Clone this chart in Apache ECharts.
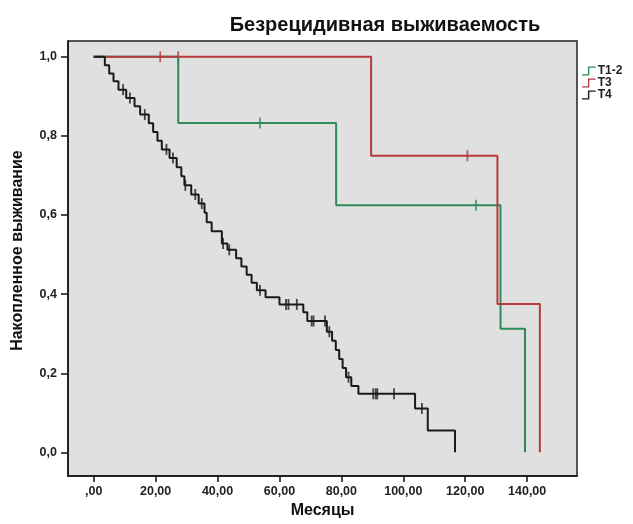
<!DOCTYPE html>
<html><head><meta charset="utf-8">
<script src="https://cdn.jsdelivr.net/npm/echarts@6/dist/echarts.min.js"></script>
<style>html,body{margin:0;padding:0;background:#fff}#c{width:633px;height:524px}</style>
</head><body><div id="c"></div>
<script>
const titleText = 'Безрецидивная выживаемость';
const xName = 'Месяцы';
const yName = 'Накопленное выживание';
const xTicks = [0, 20, 40, 60, 80, 100, 120, 140];
const yTicks = [0, 0.2, 0.4, 0.6, 0.8, 1.0];
const seriesNames = ['T1-2', 'T3', 'T4'];

// T1-2
const t12Times = [0, 27.3, 78.3, 131.4, 139.3];
const t12Surv = [1.0, 0.833, 0.625, 0.3125, 0];
const t12CensorTimes = [53.7, 123.5];
const t12CensorSurv = [0.833, 0.625];

// T3
const t3Times = [0, 89.6, 130.4, 144.1];
const t3Surv = [1.0, 0.75, 0.375, 0];
const t3CensorTimes = [21.5, 27.3, 120.7];
const t3CensorSurv = [1.0, 1.0, 0.75];

// T4
const t4Times = [0, 3.6, 5.0, 6.4, 8.0, 10.5, 13.2, 15.0, 17.8, 19.2, 20.6, 22.0, 24.5, 26.8, 28.3, 29.3, 31.5, 33.9, 35.8, 36.5, 38.1, 41.4, 43.2, 46.0, 47.7, 49.4, 51.0, 52.7, 55.5, 60.0, 67.7, 69.0, 75.3, 77.0, 78.2, 79.3, 80.4, 81.5, 83.2, 85.5, 103.8, 107.9, 116.7];
const t4Surv = [1.0, 0.979, 0.958, 0.938, 0.917, 0.896, 0.875, 0.854, 0.832, 0.810, 0.788, 0.766, 0.744, 0.721, 0.698, 0.675, 0.652, 0.629, 0.606, 0.582, 0.559, 0.528, 0.512, 0.491, 0.470, 0.449, 0.429, 0.410, 0.392, 0.374, 0.354, 0.332, 0.305, 0.282, 0.259, 0.236, 0.213, 0.190, 0.168, 0.148, 0.111, 0.0555, 0];
const t4CensorTimes = [9.5, 11.7, 16.5, 23.5, 25.6, 29.6, 32.8, 34.9, 41.8, 43.8, 53.7, 62.1, 62.9, 65.6, 70.4, 71.0, 74.7, 76.1, 82.3, 90.3, 91.1, 91.6, 97.0, 106.0];
const t4CensorSurv = [0.917, 0.896, 0.854, 0.766, 0.744, 0.675, 0.652, 0.629, 0.528, 0.512, 0.410, 0.374, 0.374, 0.374, 0.332, 0.332, 0.332, 0.305, 0.190, 0.148, 0.148, 0.148, 0.148, 0.111];

const colors = ['#2e8b57', '#b53a3a', '#1a1a1a'];
const fontFam = 'Liberation Sans, Arial, sans-serif';
const zip = (a, b) => a.map((v, i) => [v, b[i]]);

function lineSeries(name, t, s, c) {
  return { name: name, type: 'line', step: 'end', data: zip(t, s), showSymbol: false, symbol: 'none',
    lineStyle: { color: c, width: 2 }, itemStyle: { color: c }, animation: false, silent: true };
}
function censorSeries(name, t, s, c) {
  return { name: name + ' censored', type: 'scatter', data: zip(t, s), symbol: 'rect', symbolSize: [1.8, 11],
    itemStyle: { color: c }, animation: false, silent: true };
}

const chart = echarts.init(document.getElementById('c'));
chart.setOption({
  animation: false,
  backgroundColor: '#ffffff',
  title: { text: titleText, left: 380, top: 10, textAlign: 'center',
    textStyle: { fontFamily: fontFam, fontSize: 20, fontWeight: 'bold', color: '#111' } },
  legend: {
    data: seriesNames, orient: 'vertical', left: 577, top: 60, itemGap: 0, itemWidth: 16, itemHeight: 9,
    icon: 'path://M0,9 L7,9 L7,0 L16,0 L16,1.6 L8.6,1.6 L8.6,10.6 L0,10.6 Z',
    textStyle: { fontFamily: fontFam, fontSize: 12, fontWeight: 'bold', color: '#222', padding: [0, 0, 0, -4] }
  },
  grid: { left: 68, right: 56, top: 41, bottom: 45, show: true, backgroundColor: '#e0e0e0', borderColor: '#222', borderWidth: 1.5 },
  xAxis: {
    type: 'value', min: -8.3, max: 156.1,
    name: xName, nameLocation: 'middle', nameGap: 24,
    nameTextStyle: { fontFamily: fontFam, fontSize: 16, fontWeight: 'bold', color: '#111' },
    axisLine: { show: true, onZero: false, lineStyle: { color: '#111', width: 1.5 } },
    axisTick: { show: true, customValues: xTicks, length: 6, lineStyle: { color: '#111', width: 1.5 } },
    axisLabel: { customValues: xTicks, margin: 9, fontFamily: fontFam, fontSize: 12.5, fontWeight: 'bold', color: '#222',
      formatter: v => v === 0 ? ',00' : v.toFixed(2).replace('.', ',') },
    splitLine: { show: false }
  },
  yAxis: {
    type: 'value', min: -0.06, max: 1.04,
    name: yName, nameLocation: 'middle', nameGap: 42,
    nameTextStyle: { fontFamily: fontFam, fontSize: 16, fontWeight: 'bold', color: '#111', padding: [0, 0, 0, 16] },
    axisLine: { show: true, onZero: false, lineStyle: { color: '#111', width: 1.5 } },
    axisTick: { show: true, customValues: yTicks, length: 7, lineStyle: { color: '#111', width: 1.5 } },
    axisLabel: { customValues: yTicks, margin: 11, fontFamily: fontFam, fontSize: 12.5, fontWeight: 'bold', color: '#222',
      formatter: v => v.toFixed(1).replace('.', ',') },
    splitLine: { show: false }
  },
  series: [
    lineSeries(seriesNames[0], t12Times, t12Surv, colors[0]),
    censorSeries(seriesNames[0], t12CensorTimes, t12CensorSurv, colors[0]),
    lineSeries(seriesNames[1], t3Times, t3Surv, colors[1]),
    censorSeries(seriesNames[1], t3CensorTimes, t3CensorSurv, colors[1]),
    lineSeries(seriesNames[2], t4Times, t4Surv, colors[2]),
    censorSeries(seriesNames[2], t4CensorTimes, t4CensorSurv, colors[2])
  ]
});
</script>
</body></html>
